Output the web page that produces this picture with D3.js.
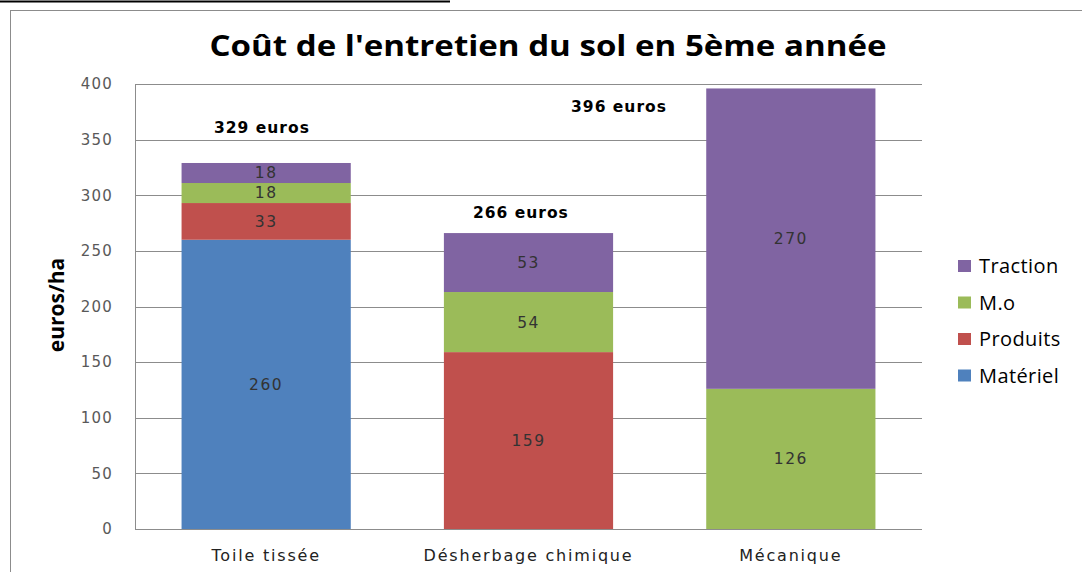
<!DOCTYPE html>
<html>
<head>
<meta charset="utf-8">
<script src="https://cdn.jsdelivr.net/npm/d3@7"></script>
<style>
  body { margin: 0; background: #fff; }
  svg { display: block; }
</style>
</head>
<body>
<div id="vis"></div>
<script>
// data
const categories = ["Toile tissée", "Désherbage chimique", "Mécanique"];
const seriesNames = ["Matériel", "Produits", "M.o", "Traction"];
const materiel = [260, 0, 0];
const produits = [33, 159, 0];
const mainOeuvre = [18, 54, 126];
const traction = [18, 53, 270];
const yTicks = [0, 50, 100, 150, 200, 250, 300, 350, 400];

const colors = ["#4F81BD", "#C0504D", "#9BBB59", "#8064A2"];

// where the "xxx euros" boxes sit: [offset in bands, value]
const totalLabelPos = [
  [-0.016, 356],
  [-0.029, 280],
  [-0.655, 375],
];

const width = 1082;
const height = 572;

var svg = d3
  .select("#vis")
  .append("svg")
  .attr("width", width)
  .attr("height", height);

svg.append("rect").attr("width", width).attr("height", height).attr("fill", "#fff");

// chart border + the black rule at the top
svg
  .append("rect")
  .attr("x", 10.5)
  .attr("y", 10.5)
  .attr("width", width + 20)
  .attr("height", height + 20)
  .attr("fill", "none")
  .attr("stroke", "#8c8c8c");
svg
  .append("line")
  .attr("x1", 0)
  .attr("x2", 450)
  .attr("y1", 1.5)
  .attr("y2", 1.5)
  .attr("stroke", "#000")
  .attr("stroke-width", 2);

const table = categories.map((c, i) => ({
  cat: c,
  "Matériel": materiel[i],
  "Produits": produits[i],
  "M.o": mainOeuvre[i],
  "Traction": traction[i],
}));
const stacked = d3.stack().keys(seriesNames)(table);

const plot = { left: 135, right: 922, top: 84, bottom: 529 };

const x = d3
  .scaleBand()
  .domain(categories)
  .range([plot.left, plot.right])
  .paddingInner(0.355)
  .paddingOuter(0.1775);

const y = d3.scaleLinear().domain([0, 400]).range([plot.bottom, plot.top]);

// gridlines
svg
  .append("g")
  .selectAll("line")
  .data(yTicks)
  .join("line")
  .attr("x1", plot.left)
  .attr("x2", plot.right)
  .attr("y1", (d) => Math.round(y(d)) + 0.5)
  .attr("y2", (d) => Math.round(y(d)) + 0.5)
  .attr("stroke", "#8c8c8c")
  .attr("stroke-width", 1);

// left axis line
svg
  .append("line")
  .attr("x1", plot.left + 0.5)
  .attr("x2", plot.left + 0.5)
  .attr("y1", plot.top)
  .attr("y2", plot.bottom + 1)
  .attr("stroke", "#8c8c8c");

// y axis labels
const yAxis = d3.axisLeft(y).tickValues(yTicks).tickSize(0).tickPadding(22);
const yG = svg.append("g").attr("transform", `translate(${plot.left},0)`).call(yAxis);
yG.select(".domain").remove();
yG
  .selectAll("text")
  .attr("font-family", "DejaVu Sans")
  .attr("font-size", 15)
  .attr("letter-spacing", 1.2)
  .attr("fill", "#595959");

// bars
const layers = svg
  .append("g")
  .selectAll("g")
  .data(stacked)
  .join("g")
  .attr("fill", (d, i) => colors[i]);

layers
  .selectAll("rect")
  .data((d) => d.filter((s) => s[1] - s[0] > 0))
  .join("rect")
  .attr("x", (d) => x(d.data.cat))
  .attr("width", x.bandwidth())
  .attr("y", (d) => y(d[1]))
  .attr("height", (d) => y(d[0]) - y(d[1]));

// segment values
layers
  .selectAll("text")
  .data((d) => d.filter((s) => s[1] - s[0] > 0))
  .join("text")
  .attr("x", (d) => x(d.data.cat) + x.bandwidth() / 2)
  .attr("y", (d) => y((d[0] + d[1]) / 2))
  .attr("dy", "0.35em")
  .attr("text-anchor", "middle")
  .attr("font-family", "DejaVu Sans")
  .attr("font-size", 15.5)
  .attr("letter-spacing", 1.5)
  .attr("fill", "#333")
  .text((d) => d[1] - d[0]);

// totals
const totals = table.map((d) => d3.sum(seriesNames, (k) => d[k]));
svg
  .append("g")
  .selectAll("text")
  .data(totals)
  .join("text")
  .attr("x", (d, i) => x(categories[i]) + x.bandwidth() / 2 + totalLabelPos[i][0] * x.step())
  .attr("y", (d, i) => y(totalLabelPos[i][1]))
  .attr("text-anchor", "middle")
  .attr("font-family", "DejaVu Sans")
  .attr("font-weight", "bold")
  .attr("font-size", 15.5)
  .attr("letter-spacing", 1)
  .attr("fill", "#000")
  .text((d) => `${d} euros`);

// category labels
svg
  .append("g")
  .selectAll("text")
  .data(categories)
  .join("text")
  .attr("x", (d) => x(d) + x.bandwidth() / 2)
  .attr("y", 561)
  .attr("text-anchor", "middle")
  .attr("font-family", "DejaVu Sans")
  .attr("font-size", 16)
  .attr("letter-spacing", 1.8)
  .attr("fill", "#222")
  .text((d) => d);

// title
svg
  .append("text")
  .attr("x", 548)
  .attr("y", 56)
  .attr("text-anchor", "middle")
  .attr("font-family", "Open Sans")
  .attr("font-weight", "bold")
  .attr("font-size", 28)
  .attr("textLength", 677)
  .attr("lengthAdjust", "spacingAndGlyphs")
  .attr("fill", "#000")
  .text("Coût de l'entretien du sol en 5ème année");

// y axis title
svg
  .append("text")
  .attr("transform", "translate(64,305) rotate(-90)")
  .attr("text-anchor", "middle")
  .attr("font-family", "Open Sans")
  .attr("font-weight", "bold")
  .attr("font-size", 21)
  .attr("fill", "#000")
  .text("euros/ha");

// legend, top to bottom in reverse stacking order
const legendItems = seriesNames.slice().reverse();
const legend = svg
  .append("g")
  .selectAll("g")
  .data(legendItems)
  .join("g")
  .attr("transform", (d, i) => `translate(958, ${266 + i * 36.5})`);

legend
  .append("rect")
  .attr("x", 0)
  .attr("y", -6)
  .attr("width", 13)
  .attr("height", 12)
  .attr("fill", (d) => colors[seriesNames.indexOf(d)]);

legend
  .append("text")
  .attr("x", 21)
  .attr("dy", "0.35em")
  .attr("font-family", "Open Sans")
  .attr("font-size", 20)
  .attr("letter-spacing", 0.4)
  .attr("fill", "#000")
  .text((d) => d);
</script>
</body>
</html>
